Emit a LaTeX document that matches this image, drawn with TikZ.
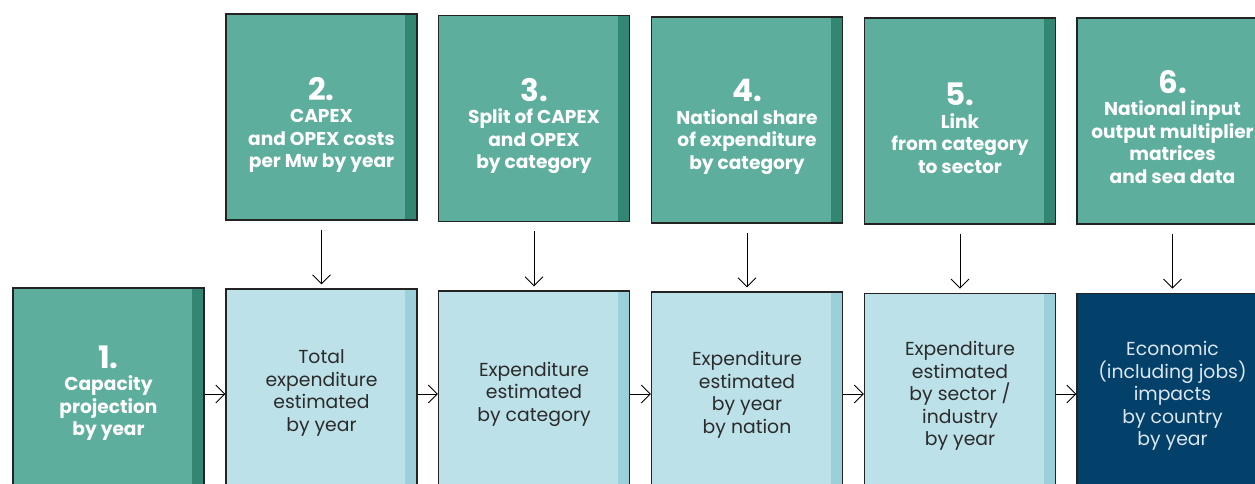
\documentclass[tikz,border=0pt]{standalone}
\usepackage{fontspec}
\setmainfont{Poppins}
\usetikzlibrary{arrows.meta}

\definecolor{teal}{HTML}{5DAE9C}
\definecolor{tealdark}{HTML}{338672}
\definecolor{pale}{HTML}{BDE1E8}
\definecolor{palestripe}{HTML}{9BCFDA}
\definecolor{navy}{HTML}{03406A}
\definecolor{edge}{HTML}{232323}
\definecolor{ink}{HTML}{2B2B2B}
\definecolor{navyink}{HTML}{DCE7EF}

\tikzset{
  x=1pt, y=-1pt,
  box/.style={rectangle, draw=edge, line width=1.2pt, inner sep=0pt,
    minimum width=191pt},
  inputbox/.style={box, fill=teal, minimum height=206pt,
    path picture={\fill[tealdark] ([xshift=-12pt]path picture bounding box.north east)
      rectangle (path picture bounding box.south east);}},
  stagebox/.style={box, fill=pale, minimum height=210pt,
    path picture={\fill[palestripe] ([xshift=-12pt]path picture bounding box.north east)
      rectangle (path picture bounding box.south east);}},
  startbox/.style={box, fill=teal, minimum height=210pt,
    path picture={\fill[tealdark] ([xshift=-12pt]path picture bounding box.north east)
      rectangle (path picture bounding box.south east);}},
  resultbox/.style={box, fill=navy, minimum height=210pt},
  inputtext/.style={align=center, text=white, inner sep=0pt,
    font=\bfseries\fontsize{18.6}{22.5}\selectfont},
  stagetext/.style={align=center, text=ink, inner sep=0pt,
    font=\fontsize{18.8}{22.5}\selectfont},
  flow/.style={draw=black, line width=0.9pt,
    -{Straight Barb[length=9pt, width=18pt, line width=0.9pt]}},
}
\newcommand{\stepnum}[1]{{\fontsize{31}{26}\selectfont #1}}

\begin{document}
\begin{tikzpicture}
\useasboundingbox (0,0) rectangle (1255,484);
\clip (0,0) rectangle (1255,484);

% input boxes along the top
\node[inputbox] (b2) at (321.5,117)   {};
\node[inputbox] (b3) at (534,118.5)   {};
\node[inputbox] (b4) at (747,120)     {};
\node[inputbox] (b5) at (960,121)     {};
\node[inputbox] (b6) at (1172.5,121)  {};

% stage boxes along the bottom
\node[startbox]  (c1) at (108.5,393)  {};
\node[stagebox]  (c2) at (321.5,394)  {};
\node[stagebox]  (c3) at (534,396)    {};
\node[stagebox]  (c4) at (747,397)    {};
\node[stagebox]  (c5) at (960,398.3)  {};
\node[resultbox] (c6) at (1172.5,398.3) {};

% labels of the input boxes
\node[inputtext] (t2) at (321.5,125) {\stepnum{2.}\\CAPEX\\and OPEX costs\\per Mw by year};
\node[inputtext] (t3) at (534,126)   {\stepnum{3.}\\Split of CAPEX\\and OPEX\\by category};
\node[inputtext] (t4) at (747,127)   {\stepnum{4.}\\National share\\of expenditure\\by category};
\node[inputtext] (t5) at (960,128)   {\stepnum{5.}\\Link\\from category\\to sector};
\node[inputtext] (t6) at (1172.5,127) {\stepnum{6.}\\National input\\output multiplier\\matrices\\and sea data};

% labels of the stage boxes
\node[inputtext] (s1) at (108.5,393) {\stepnum{1.}\\Capacity\\projection\\by year};
\node[stagetext] (s2) at (321.5,393) {Total\\expenditure\\estimated\\by year};
\node[stagetext] (s3) at (534,394)   {Expenditure\\estimated\\by category};
\node[stagetext] (s4) at (747,395)   {Expenditure\\estimated\\by year\\by nation};
\node[stagetext] (s5) at (960,396)   {Expenditure\\estimated\\by sector /\\industry\\by year};
\node[stagetext, text=navyink] (s6) at (1172.5,396) {Economic\\(including jobs)\\impacts\\by country\\by year};

% inputs feeding each stage
\foreach \a/\b in {b2/c2, b3/c3, b4/c4, b5/c5, b6/c6}
  \draw[flow, shorten <=9pt, shorten >=4pt] (\a) -- (\b);

% stage to stage
\coordinate (h1) at (0,394);
\foreach \a/\b in {c1/c2, c2/c3, c3/c4, c4/c5, c5/c6}
  \draw[flow] (\a.east |- h1) -- (\b.west |- h1);
\end{tikzpicture}
\end{document}
